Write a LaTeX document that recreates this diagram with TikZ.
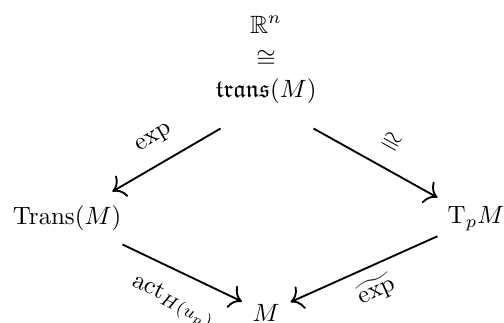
\documentclass[tikz,border=0pt]{standalone}
\usepackage{amsmath,amssymb}
\usetikzlibrary{cd}
\begin{document}
\begin{tikzpicture}[x=0.4pt,y=-0.4pt,
  obj/.style={inner sep=0pt},
  arr/.style={-{cm to}, line width=0.75pt},
  lbl/.style={sloped, anchor=center, inner sep=0pt}]
\useasboundingbox (0,0) rectangle (504,322);
\node[obj, anchor=base] (Rn) at (266,33) {$\mathbb{R}^n$};
\node[obj] (iso) at (266,59) {$\cong$};
\node[obj, anchor=base, text height=8.4pt, text depth=12.4pt] (trans) at (266,97) {$\mathfrak{trans}(M)$};
\node[obj, minimum width=44pt, minimum height=20.8pt] (Trans) at (67,218) {$\mathrm{Trans}(M)$};
\node[obj, minimum width=30.4pt, minimum height=18.4pt] (TpM) at (476,219) {$\mathrm{T}_pM$};
\node[obj, minimum width=19.2pt, minimum height=8.8pt] (M) at (266,313) {$M$};
\draw[arr] (trans) -- (Trans) node[lbl, pos=0.5, yshift=9.8pt] (lexp) {$\exp$};
\draw[arr] (trans) -- (TpM) node[lbl, pos=0.526, yshift=10pt] (liso) {$\cong$};
\draw[arr] (Trans) -- (M) node[lbl, pos=0.53, yshift=-12pt] (lact) {$\mathrm{act}_{H(u_p)}$};
\draw[arr] (TpM) -- (M) node[lbl, pos=0.485, yshift=-9.6pt] (ltexp) {$\widetilde{\exp}$};
\end{tikzpicture}
\end{document}
